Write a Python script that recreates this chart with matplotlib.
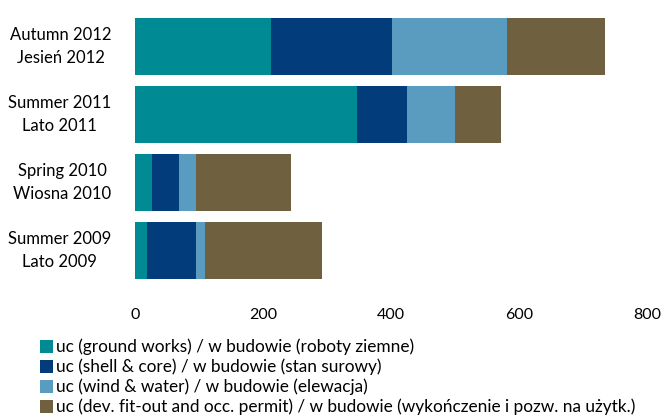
import matplotlib
matplotlib.use("Agg")
import matplotlib.pyplot as plt
from matplotlib.patches import Patch

plt.rcParams['font.family'] = ['Lato', 'DejaVu Sans']

categories = ["Summer 2009\nLato 2009", "Spring 2010\nWiosna 2010",
              "Summer 2011\nLato 2011", "Autumn 2012\nJesień 2012"]
ground_works = [18, 26, 346, 213]
shell_core = [77, 42, 79, 188]
wind_water = [14, 27, 74, 180]
fit_out = [183, 148, 73, 152]

series_labels = [
    "uc (ground works) / w budowie (roboty ziemne)",
    "uc (shell & core) / w budowie (stan surowy)",
    "uc (wind & water) / w budowie (elewacja)",
    "uc (dev. fit-out and occ. permit) / w budowie (wykończenie i pozw. na użytk.)",
]
colors = ["#008A94", "#023C7A", "#599CC0", "#6F6040"]
x_ticks = [0, 200, 400, 600, 800]

fig = plt.figure(figsize=(6.66, 4.19), dpi=100)
ax = fig.add_axes([0.2027, 0.321, 0.7695, 0.649])

ypos = list(range(len(categories)))
left = [0] * len(categories)
for vals, col in zip([ground_works, shell_core, wind_water, fit_out], colors):
    ax.barh(ypos, vals, left=left, height=0.83, color=col, edgecolor='none')
    left = [l + v for l, v in zip(left, vals)]

ax.set_xlim(0, 800)
ax.set_ylim(-0.5, 3.5)
ax.set_xticks(x_ticks)
ax.set_xticklabels([str(t) for t in x_ticks], fontsize=11.5)
ax.set_yticks(ypos)
ax.set_yticklabels(categories, multialignment='center', linespacing=1.6,
                   fontsize=12, va='center')
ax.tick_params(axis='both', length=0, colors='#000000')
ax.tick_params(axis='x', pad=17)
ax.tick_params(axis='y', pad=17)
for s in ax.spines.values():
    s.set_visible(False)

handles = [Patch(facecolor=c, edgecolor='none') for c in colors]
fig.legend(handles, series_labels, loc='upper left', bbox_to_anchor=(0.060, 0.192),
           frameon=False, fontsize=12.4, handlelength=0.78, handleheight=0.8,
           handletextpad=0.15, labelspacing=0.2, borderaxespad=0, borderpad=0)

fig.savefig("out.png", dpi=100)
